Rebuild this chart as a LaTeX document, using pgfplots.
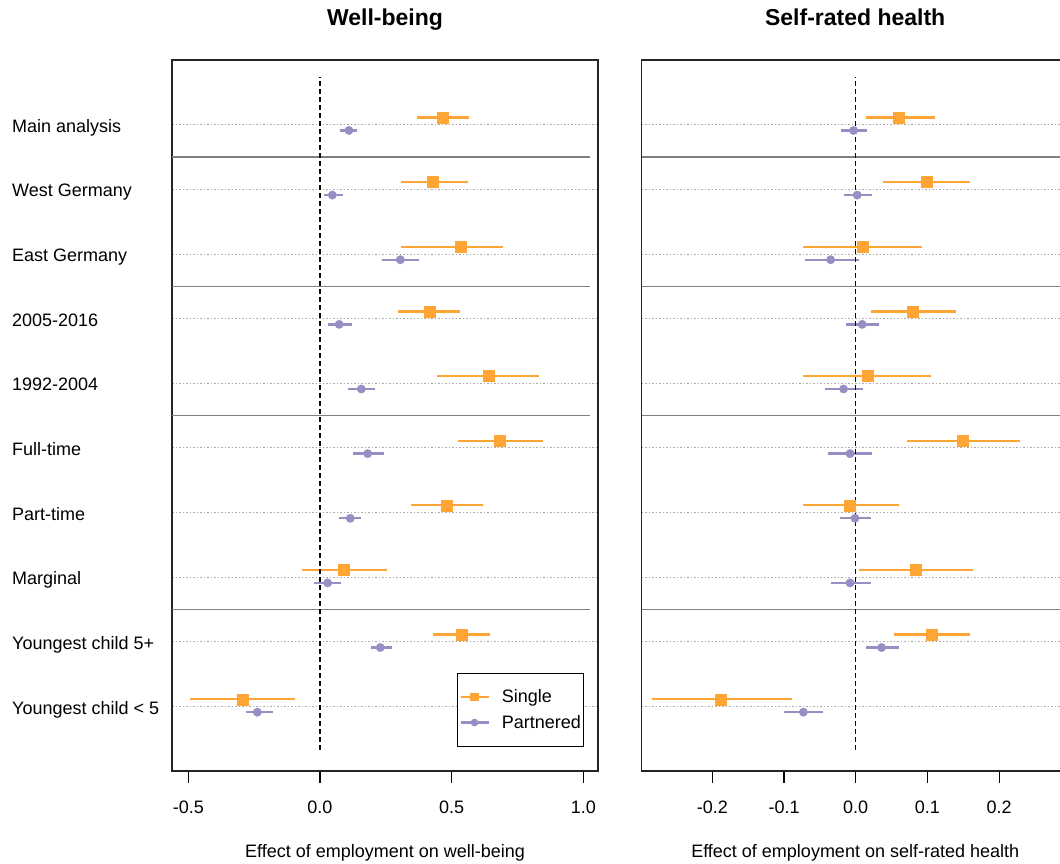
\documentclass[border=0pt]{standalone}
\usepackage{fontspec}
\setmainfont{Liberation Sans}
\usepackage{pgfplots}
\pgfplotsset{compat=1.18}
\usepackage{pgfplotstable}

\definecolor{cOr}{RGB}{255,165,51}
\definecolor{cPu}{RGB}{153,142,195}
\newcommand{\lab}{\fontsize{18}{21}\selectfont}

% row est lo hi
\pgfplotstableread{
row est lo hi
10 0.466 0.368 0.567
9 0.429 0.306 0.561
8 0.534 0.306 0.695
7 0.415 0.297 0.533
6 0.639 0.444 0.833
5 0.682 0.525 0.848
4 0.482 0.344 0.619
3 0.091 -0.070 0.253
2 0.538 0.430 0.646
1 -0.294 -0.493 -0.096
}\wbS
\pgfplotstableread{
row est lo hi
10 0.110 0.077 0.142
9 0.047 0.015 0.089
8 0.305 0.234 0.375
7 0.073 0.029 0.120
6 0.157 0.106 0.209
5 0.181 0.125 0.242
4 0.115 0.073 0.157
3 0.029 -0.023 0.080
2 0.229 0.194 0.275
1 -0.238 -0.282 -0.180
}\wbP
\pgfplotstableread{
row est lo hi
10 0.060 0.014 0.110
9 0.099 0.038 0.159
8 0.009 -0.073 0.093
7 0.080 0.021 0.140
6 0.016 -0.073 0.105
5 0.149 0.071 0.229
4 -0.008 -0.073 0.060
3 0.083 0.005 0.163
2 0.106 0.054 0.160
1 -0.188 -0.284 -0.089
}\hS
\pgfplotstableread{
row est lo hi
10 -0.003 -0.020 0.015
9 0.002 -0.017 0.023
8 -0.035 -0.071 0.004
7 0.009 -0.014 0.033
6 -0.017 -0.043 0.010
5 -0.008 -0.039 0.022
4 -0.001 -0.022 0.021
3 -0.008 -0.034 0.021
2 0.036 0.014 0.060
1 -0.073 -0.100 -0.045
}\hP

\tikzset{
  sepl/.style={black!50, line width=1.3pt},
  zl/.style={black, line width=1.2pt, dash pattern=on 5pt off 3pt},
  rl/.style={anchor=base west, inner sep=0pt, font=\lab, xshift=-160pt, yshift=-7.7pt},
}
\pgfplotsset{
  panel/.style={
    scale only axis, height=711pt, anchor=south west,
    ymin=0, ymax=11, ytick={1,...,10}, yticklabels={},
    ytick style={draw=none},
    ymajorgrids, major grid style={color=black!33, line width=0.8pt, dash pattern=on 1.5pt off 2pt},
    tick align=outside, xtick pos=bottom, major tick length=12pt,
    xtick style={line width=1.2pt, color=black},
    axis line style={line width=1.3pt, color=black!85},
    tick label style={font=\lab},
    xticklabel style={yshift=-14pt},
    title style={font=\bfseries\fontsize{23}{27}\selectfont, at={(0.5,1)}, anchor=base, yshift=28pt},
    xlabel style={font=\lab, at={(0.5,0)}, anchor=base, yshift=-86pt},
    clip=false,
  },
  singleplot/.style={only marks, color=cOr, mark=square*, mark size=5.5pt,
    mark options={fill=cOr, draw=cOr, solid},
    legend image code/.code={\draw[cOr, line width=2.6pt] (0pt,0pt) -- (28pt,0pt);
      \path plot[mark=square*, mark size=3.7pt, mark options={fill=cOr, draw=cOr}] coordinates {(14pt,0pt)};},
    error bars/.cd, x dir=both, x explicit, error mark=none,
    error bar style={line width=2.3pt, color=cOr}},
  partplot/.style={only marks, color=cPu, mark=*, mark size=4.2pt,
    mark options={fill=cPu, draw=cPu, solid},
    legend image code/.code={\draw[cPu, line width=2.6pt] (0pt,0pt) -- (28pt,0pt);
      \path plot[mark=*, mark size=3.3pt, mark options={fill=cPu, draw=cPu}] coordinates {(14pt,0pt)};},
    error bars/.cd, x dir=both, x explicit, error mark=none,
    error bar style={line width=2.3pt, color=cPu}},
}

\begin{document}
\begin{tikzpicture}
\begin{axis}[panel, at={(172pt,92pt)}, width=426pt,
  xmin=-0.5619, xmax=1.0558,
  xtick={-0.5,0,0.5,1}, xticklabels={-0.5,0.0,0.5,1.0},
  title={Well-being}, xlabel={Effect of employment on well-being},
  legend style={at={(0.968,0.034)}, anchor=south east, draw=black, line width=1pt,
    font=\lab, inner xsep=2pt, inner ysep=15.5pt, row sep=9pt,
    nodes={inner sep=1pt},
    /tikz/every odd column/.append style={column sep=11pt}},
  legend cell align=left]
\addplot[singleplot] table[x=est, y expr=\thisrow{row}+0.11,
  x error plus expr=\thisrow{hi}-\thisrow{est},
  x error minus expr=\thisrow{est}-\thisrow{lo}] {\wbS};
\addlegendentry{Single}
\addplot[partplot] table[x=est, y expr=\thisrow{row}-0.09,
  x error plus expr=\thisrow{hi}-\thisrow{est},
  x error minus expr=\thisrow{est}-\thisrow{lo}] {\wbP};
\addlegendentry{Partnered}
\draw[sepl] (axis cs:-0.5619,9.5) -- (axis cs:1.025,9.5);
\draw[sepl] (axis cs:-0.5619,7.5) -- (axis cs:1.025,7.5);
\draw[sepl] (axis cs:-0.5619,5.5) -- (axis cs:1.025,5.5);
\draw[sepl] (axis cs:-0.5619,2.5) -- (axis cs:1.025,2.5);
\draw[zl] (axis cs:0,0.33) -- (axis cs:0,10.73);
\node[rl] at (axis cs:-0.5619,10) {Main analysis};
\node[rl] at (axis cs:-0.5619,9) {West Germany};
\node[rl] at (axis cs:-0.5619,8) {East Germany};
\node[rl] at (axis cs:-0.5619,7) {2005-2016};
\node[rl] at (axis cs:-0.5619,6) {1992-2004};
\node[rl] at (axis cs:-0.5619,5) {Full-time};
\node[rl] at (axis cs:-0.5619,4) {Part-time};
\node[rl] at (axis cs:-0.5619,3) {Marginal};
\node[rl] at (axis cs:-0.5619,2) {Youngest child 5+};
\node[rl] at (axis cs:-0.5619,1) {Youngest child < 5};
\end{axis}
\begin{axis}[panel, at={(641.7pt,92pt)}, width=427pt,
  xmin=-0.2985, xmax=0.297,
  xtick={-0.2,-0.1,0,0.1,0.2}, xticklabels={-0.2,-0.1,0.0,0.1,0.2},
  title={Self-rated health}, xlabel={Effect of employment on self-rated health}]
\addplot[singleplot] table[x=est, y expr=\thisrow{row}+0.11,
  x error plus expr=\thisrow{hi}-\thisrow{est},
  x error minus expr=\thisrow{est}-\thisrow{lo}] {\hS};
\addplot[partplot] table[x=est, y expr=\thisrow{row}-0.09,
  x error plus expr=\thisrow{hi}-\thisrow{est},
  x error minus expr=\thisrow{est}-\thisrow{lo}] {\hP};
\draw[sepl] (axis cs:-0.2985,9.5) -- (axis cs:0.297,9.5);
\draw[sepl] (axis cs:-0.2985,7.5) -- (axis cs:0.297,7.5);
\draw[sepl] (axis cs:-0.2985,5.5) -- (axis cs:0.297,5.5);
\draw[sepl] (axis cs:-0.2985,2.5) -- (axis cs:0.297,2.5);
\draw[zl] (axis cs:0,0.33) -- (axis cs:0,10.73);
\end{axis}
\pgfresetboundingbox
\path[use as bounding box] (0,0) rectangle (1060pt,863pt);
\end{tikzpicture}
\end{document}
